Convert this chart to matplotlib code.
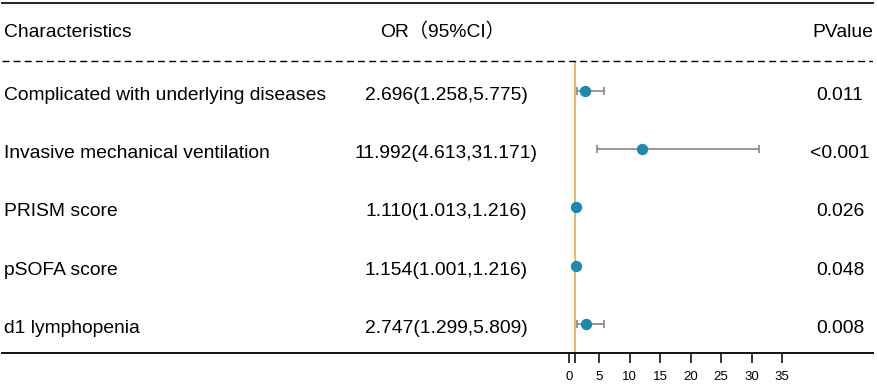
import matplotlib
matplotlib.use('Agg')
import matplotlib.pyplot as plt
import matplotlib.transforms as mtransforms

plt.rcParams['font.family'] = ['Liberation Sans', 'Noto Sans CJK SC', 'DejaVu Sans']

characteristics = ["Complicated with underlying diseases",
                   "Invasive mechanical ventilation",
                   "PRISM score",
                   "pSOFA score",
                   "d1 lymphopenia"]
or_text = ["2.696(1.258,5.775)",
           "11.992(4.613,31.171)",
           "1.110(1.013,1.216)",
           "1.154(1.001,1.216)",
           "2.747(1.299,5.809)"]
p_values = ["0.011", "<0.001", "0.026", "0.048", "0.008"]
or_vals = [2.696, 11.992, 1.110, 1.154, 2.747]
ci_low = [1.258, 4.613, 1.013, 1.001, 1.299]
ci_high = [5.775, 31.171, 1.216, 1.216, 5.809]
xticks = [0, 1, 5, 10, 15, 20, 25, 30, 35]
xticklabels = ["0", "", "5", "10", "15", "20", "25", "30", "35"]
headers = ["Characteristics", "OR\uff0895%CI\uff09", "PValue"]

W, H = 878, 386
fig = plt.figure(figsize=(W / 100, H / 100), dpi=100)
ax = fig.add_axes([2 / W, 33 / H, 871 / W, 350 / H])

x0_px, scale = 569.0, 6.086
ax.set_xlim((2 - x0_px) / scale, (873 - x0_px) / scale)
ax.set_ylim(5.5, -0.5)

rows = list(range(1, len(characteristics) + 1))

# reference line at OR = 1
ax.vlines(1, 0.5, 5.5, color='#E8A33D', lw=1.1, zorder=1)
# dashed separator
ax.axhline(0.5, color='black', ls=(0, (5, 3)), lw=1.0, zorder=1)

xerr = [[o - l for o, l in zip(or_vals, ci_low)],
        [h - o for o, h in zip(or_vals, ci_high)]]
ax.errorbar(or_vals, rows, xerr=xerr, fmt='none', ecolor='#858585',
            elinewidth=1.2, capsize=3.2, capthick=1.2, zorder=2)
ax.plot(or_vals, rows, 'o', color='#1A8AB0', markersize=8.2, zorder=3,
        markeredgewidth=0)

trans = mtransforms.blended_transform_factory(fig.transFigure, ax.transData)
fs = 13.9
hy = 0.09
off = 0.155
ax.text(4 / W, hy, headers[0], transform=trans, ha='left', va='baseline', fontsize=fs)
ax.text(443 / W, hy, headers[1], transform=trans, ha='center', va='baseline', fontsize=fs)
ax.text(843 / W, hy, headers[2], transform=trans, ha='center', va='baseline', fontsize=fs)
for r, c, o, p in zip(rows, characteristics, or_text, p_values):
    ax.text(4 / W, r + off, c, transform=trans, ha='left', va='baseline', fontsize=fs)
    ax.text(446 / W, r + off, o, transform=trans, ha='center', va='baseline', fontsize=fs)
    ax.text(840 / W, r + off, p, transform=trans, ha='center', va='baseline', fontsize=fs)

for s in ['left', 'right']:
    ax.spines[s].set_visible(False)
ax.spines['top'].set_linewidth(1.4)
ax.spines['top'].set_color('#222222')
ax.spines['bottom'].set_linewidth(1.4)
ax.spines['bottom'].set_color('#111111')

ax.set_xticks(xticks)
ax.set_xticklabels(xticklabels)
ax.set_yticks([])
ax.tick_params(axis='x', direction='out', length=7, width=1.1, labelsize=9.5, pad=6)

fig.savefig('out.png', dpi=100)
